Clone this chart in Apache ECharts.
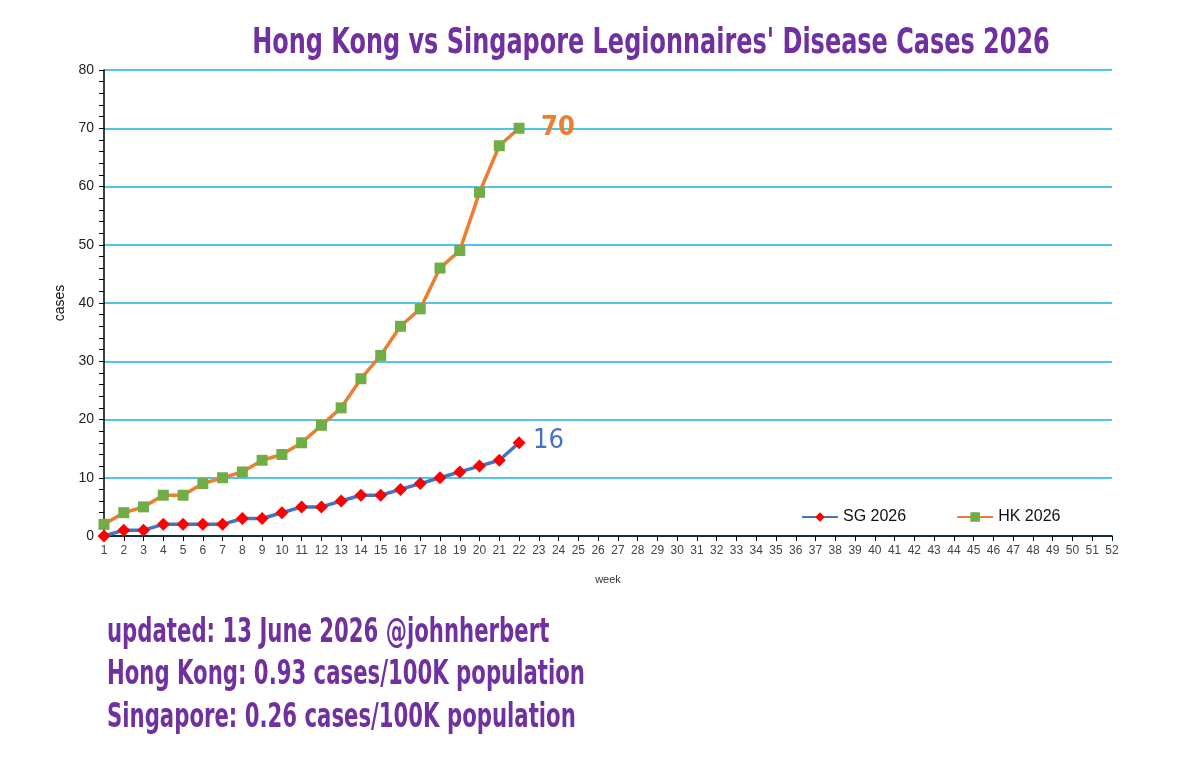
<!DOCTYPE html>
<html>
<head>
<meta charset="utf-8">
<script src="https://cdn.jsdelivr.net/npm/echarts@6/dist/echarts.min.js"></script>
<style>
  html, body { margin: 0; padding: 0; background: #fff; }
  #chart { width: 1200px; height: 768px; }
</style>
</head>
<body>
<div id="chart"></div>
<script>
// weeks 1..52 on the x axis
var weeks = [];
for (var w = 1; w <= 52; w++) weeks.push(String(w));

// cumulative cases, weeks 1-22
var sgCases = [0, 1, 1, 2, 2, 2, 2, 3, 3, 4, 5, 5, 6, 7, 7, 8, 9, 10, 11, 12, 13, 16];
var hkCases = [2, 4, 5, 7, 7, 9, 10, 11, 13, 14, 16, 19, 22, 27, 31, 36, 39, 46, 49, 59, 67, 70];

var titleText = "Hong Kong vs Singapore Legionnaires' Disease Cases 2026";
var footLines = [
  'updated: 13 June 2026 @johnherbert',
  'Hong Kong: 0.93 cases/100K population',
  'Singapore: 0.26 cases/100K population'
];

var condensed = '"DejaVu Sans Condensed", "Liberation Sans Narrow", "Roboto", sans-serif';
var purple = '#7030A0';

var chart = echarts.init(document.getElementById('chart'));

// squeeze text horizontally to mimic the narrow font of the original
var texts = [{
  type: 'text',
  x: 651,
  y: 44,
  scaleX: 0.74,
  style: {
    text: titleText, fontFamily: condensed, fontSize: 36, fontWeight: 'bold',
    fill: purple, textAlign: 'center', textVerticalAlign: 'middle'
  }
}];
footLines.forEach(function (t, i) {
  texts.push({
    type: 'text',
    x: 107,
    y: 633 + i * 42.5,
    scaleX: 0.715,
    style: {
      text: t, fontFamily: condensed, fontSize: 33, fontWeight: 'bold',
      fill: purple, textAlign: 'left', textVerticalAlign: 'middle'
    }
  });
});

var option = {
  backgroundColor: '#fff',
  animation: false,
  legend: {
    data: ['SG 2026', 'HK 2026'],
    left: 796,
    top: 504,
    itemWidth: 36,
    itemHeight: 12,
    itemGap: 50,
    textStyle: { fontFamily: 'Liberation Sans, Arial', fontSize: 16, color: '#111' }
  },
  grid: { left: 104, right: 88, top: 70, bottom: 232 },
  xAxis: {
    type: 'category',
    data: weeks,
    boundaryGap: false,
    name: 'week',
    nameLocation: 'middle',
    nameGap: 38,
    nameTextStyle: { fontFamily: 'Liberation Sans, Arial', fontSize: 11, color: '#333' },
    axisLine: { lineStyle: { color: '#000', width: 1.5 } },
    axisTick: { show: true, length: 5, alignWithLabel: true, lineStyle: { color: '#000' } },
    axisLabel: { interval: 0, margin: 9, fontFamily: 'Liberation Sans, Arial', fontSize: 12, color: '#444' },
    splitLine: { show: false }
  },
  yAxis: {
    type: 'value',
    min: 0,
    max: 80,
    interval: 10,
    name: 'cases',
    nameLocation: 'middle',
    nameRotate: 90,
    nameGap: 34,
    nameTextStyle: { fontFamily: 'Liberation Sans, Arial', fontSize: 14, color: '#111' },
    axisLine: { show: true, lineStyle: { color: '#000', width: 1.5 } },
    axisTick: { show: true, length: 5, lineStyle: { color: '#000' } },
    minorTick: { show: true, splitNumber: 5, length: 5, lineStyle: { color: '#000' } },
    axisLabel: { margin: 10, fontFamily: 'Liberation Sans, Arial', fontSize: 14, color: '#222' },
    splitLine: { lineStyle: { color: '#1AAFE0', width: 1.5 } }
  },
  series: [
    {
      name: 'SG 2026',
      type: 'line',
      data: sgCases,
      symbol: 'diamond',
      symbolSize: 13,
      showAllSymbol: true,
      lineStyle: { color: '#4472C4', width: 3.5 },
      itemStyle: { color: '#FF0000', borderWidth: 0 },
      endLabel: {
        show: true,
        distance: 14,
        offset: [0, -2],
        formatter: function (p) { return p.value; },
        fontFamily: condensed,
        fontSize: 27,
        color: '#4472C4'
      },
      z: 3
    },
    {
      name: 'HK 2026',
      type: 'line',
      data: hkCases,
      symbol: 'rect',
      symbolSize: 11,
      showAllSymbol: true,
      lineStyle: { color: '#ED7D31', width: 3.5 },
      itemStyle: { color: '#70AD47', borderWidth: 0 },
      endLabel: {
        show: true,
        distance: 22,
        formatter: function (p) { return p.value; },
        fontFamily: condensed,
        fontSize: 27,
        fontWeight: 'bold',
        color: '#ED7D31'
      },
      z: 2
    }
  ],
  graphic: texts
};

chart.setOption(option);
</script>
</body>
</html>
